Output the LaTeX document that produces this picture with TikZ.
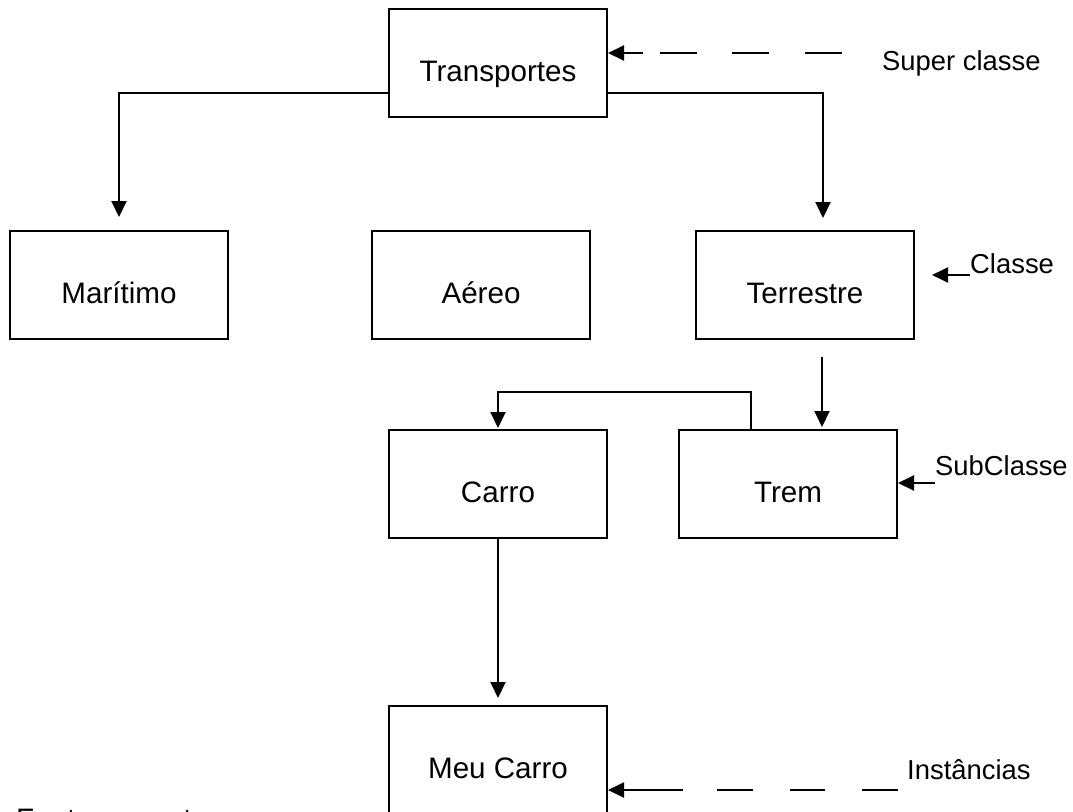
\documentclass[tikz,border=0pt]{standalone}
\usepackage{fontspec}
\setmainfont{Liberation Sans}
\usetikzlibrary{arrows.meta}
\tikzset{
	caixa/.style={draw,line width=2pt,minimum width=218pt,minimum height=108pt,inner sep=0pt,text height=37pt,text depth=0pt,font=\fontsize{29.6}{34}\selectfont},
	rotulo/.style={anchor=base west,inner sep=0pt,font=\fontsize{27.4}{32}\selectfont},
	seta/.style={line width=2pt,-{Triangle[length=16pt,width=15pt]}},
	tracos/.style={seta,dash pattern=#1}
}
\begin{document}
\begin{tikzpicture}[x=1pt,y=-1pt]
						\clip (0,0) rectangle (1073,811);

						\node [caixa] (transportes) at (498,63) {Transportes};
						\node [caixa] (maritimo) at (119,285) {Marítimo};
						\node [caixa] (aereo) at (481,285) {Aéreo};
						\node [caixa] (terrestre) at (805,285) {Terrestre};
						\node [caixa] (carro) at (498,484) {Carro};
						\node [caixa] (trem) at (788,484) {Trem};
						\node [caixa] (meucarro) at (498,760) {Meu Carro};

						\node [rotulo] (superclasse) at (882,70) {Super classe};
						\node [rotulo] (classe) at (970,273) {Classe};
						\node [rotulo] (subclasse) at (935,475) {SubClasse};
						\node [rotulo] (instancias) at (907,779) {Instâncias};
						\node [rotulo,font=\fontsize{29.6}{34}\selectfont] (fonte) at (16,829) {Fonte: os autores};

						\coordinate (supinicio) at (842,53);
						\coordinate (instinicio) at (898,790);
						\coordinate (classeponta) at (932,275);

						\draw [seta,shorten >=13pt] ([yshift=-30pt]transportes.west) -| (maritimo.north);
						\draw [seta,shorten >=12pt] ([yshift=-30pt]transportes.east) -| ([xshift=18pt]terrestre.north);
						\draw [seta,shorten >=2pt] ([xshift=17pt,yshift=-17pt]terrestre.south) coordinate (t) -- (t |- trem.north);
						\draw [seta,shorten >=1pt] ([xshift=-37pt]trem.north) -- ++(0,-37) -| (carro.north);
						\draw [seta,shorten >=7pt] (carro.south) -- (meucarro.north);

						\draw [seta] (classeponta -| classe.base west) -- (classeponta);
						\draw [seta] ([yshift=-8pt]subclasse.base west) coordinate (s) -- (s -| trem.east);
						\draw [tracos={on 37pt off 36pt on 37pt off 35pt on 37pt off 17pt on 60pt}] (supinicio) -- (supinicio -| transportes.east);
						\draw [tracos={on 36pt off 37pt on 35pt off 37pt on 36pt off 34pt on 120pt}] (instinicio) -- (instinicio -| meucarro.east);
					\end{tikzpicture}
\end{document}
